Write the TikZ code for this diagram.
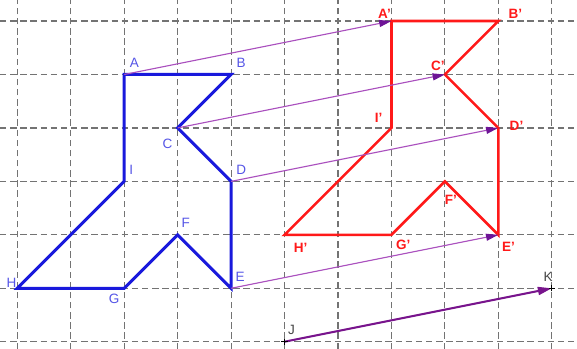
\documentclass[tikz,border=0pt]{standalone}
\usepackage{fontspec}
\setmainfont{Liberation Sans}
\usetikzlibrary{arrows.meta,calc}
\definecolor{gridgray}{RGB}{115,115,115}
\definecolor{bline}{RGB}{25,25,220}
\definecolor{blabel}{RGB}{85,85,230}
\definecolor{rline}{RGB}{255,25,25}
\definecolor{vline}{RGB}{170,80,190}
\definecolor{vhead}{RGB}{110,20,150}
\definecolor{vdark}{RGB}{120,20,140}
\definecolor{klabel}{RGB}{70,70,70}
\tikzset{
  gridline/.style={gridgray, line width=0.6pt, dash pattern=on 3.4pt off 2pt},
  bluepoly/.style={bline, line width=1.6pt, line join=miter},
  redpoly/.style={rline, line width=1.4pt, line join=miter},
  vecthin/.style={vline, line width=0.6pt, -{Triangle[length=2.3mm,width=1.3mm,fill=vhead,color=vhead]}},
  vecthick/.style={vdark, line width=1.1pt, -{Triangle[length=2.6mm,width=1.5mm]}},
  blab/.style={blabel, font=\fontsize{7.2}{8}\selectfont, inner sep=0pt},
  rlab/.style={rline, font=\fontsize{7.2}{8}\selectfont\bfseries, inner sep=0pt},
  klab/.style={klabel, font=\fontsize{7.2}{8}\selectfont, inner sep=0pt},
  crossmark/.style={black, line width=0.6pt}
}
\begin{document}
\begin{tikzpicture}
\useasboundingbox (-0.324,-1.136) rectangle (10.472,5.394);
% grid
\foreach \x in {0,...,10} \draw[gridline] (\x,-1.136) -- (\x,5.394);
\foreach \y in {-1,...,5} \draw[gridline] (-0.324,\y) -- (10.472,\y);
% original points
\coordinate (A) at (2,4);
\coordinate (B) at (4,4);
\coordinate (C) at (3,3);
\coordinate (D) at (4,2);
\coordinate (E) at (4,0);
\coordinate (F) at (3,1);
\coordinate (G) at (2,0);
\coordinate (H) at (0,0);
\coordinate (I) at (2,2);
% image points
\coordinate (A') at (7,5);
\coordinate (B') at (9,5);
\coordinate (C') at (8,4);
\coordinate (D') at (9,3);
\coordinate (E') at (9,1);
\coordinate (F') at (8,2);
\coordinate (G') at (7,1);
\coordinate (H') at (5,1);
\coordinate (I') at (7,3);
\coordinate (J) at (5,-1);
\coordinate (K) at (10,0);
% polygons
\draw[bluepoly] (A) -- (B) -- (C) -- (D) -- (E) -- (F) -- (G) -- (H) -- (I) -- cycle;
\draw[redpoly] (A') -- (B') -- (C') -- (D') -- (E') -- (F') -- (G') -- (H') -- (I') -- cycle;
% translation arrows
\draw[vecthin] (A) -- (A');
\draw[vecthin] (C) -- (C');
\draw[vecthin] (D) -- (D');
\draw[vecthin] (E) -- (E');
\draw[vecthick] (J) -- (K);
% crosses
\draw[crossmark] ([xshift=-0.06cm]J) -- ([xshift=0.06cm]J) ([yshift=-0.06cm]J) -- ([yshift=0.06cm]J);
\draw[crossmark] ([xshift=-0.06cm]K) -- ([xshift=0.06cm]K) ([yshift=-0.06cm]K) -- ([yshift=0.06cm]K);
% labels
\node[blab] (lA) at ($(A)+(0.19,0.21)$) {A};
\node[blab] (lB) at ($(B)+(0.19,0.22)$) {B};
\node[blab] (lC) at ($(C)+(-0.19,-0.30)$) {C};
\node[blab] (lD) at ($(D)+(0.19,0.22)$) {D};
\node[blab] (lE) at ($(E)+(0.17,0.21)$) {E};
\node[blab] (lF) at ($(F)+(0.15,0.22)$) {F};
\node[blab] (lG) at ($(G)+(-0.19,-0.19)$) {G};
\node[blab] (lH) at ($(H)+(-0.11,0.11)$) {H};
\node[blab] (lI) at ($(I)+(0.13,0.21)$) {I};
\node[rlab] (lA') at ($(A')+(-0.13,0.13)$) {A'};
\node[rlab] (lB') at ($(B')+(0.32,0.13)$) {B'};
\node[rlab] (lC') at ($(C')+(-0.13,0.17)$) {C'};
\node[rlab] (lD') at ($(D')+(0.34,0.04)$) {D'};
\node[rlab] (lE') at ($(E')+(0.19,-0.22)$) {E'};
\node[rlab] (lF') at ($(F')+(0.11,-0.34)$) {F'};
\node[rlab] (lG') at ($(G')+(0.22,-0.19)$) {G'};
\node[rlab] (lH') at ($(H')+(0.30,-0.24)$) {H'};
\node[rlab] (lI') at ($(I')+(-0.24,0.19)$) {I'};
\node[klab] (lJ) at ($(J)+(0.13,0.22)$) {J};
\node[klab] (lK) at ($(K)+(-0.07,0.22)$) {K};
\end{tikzpicture}
\end{document}
